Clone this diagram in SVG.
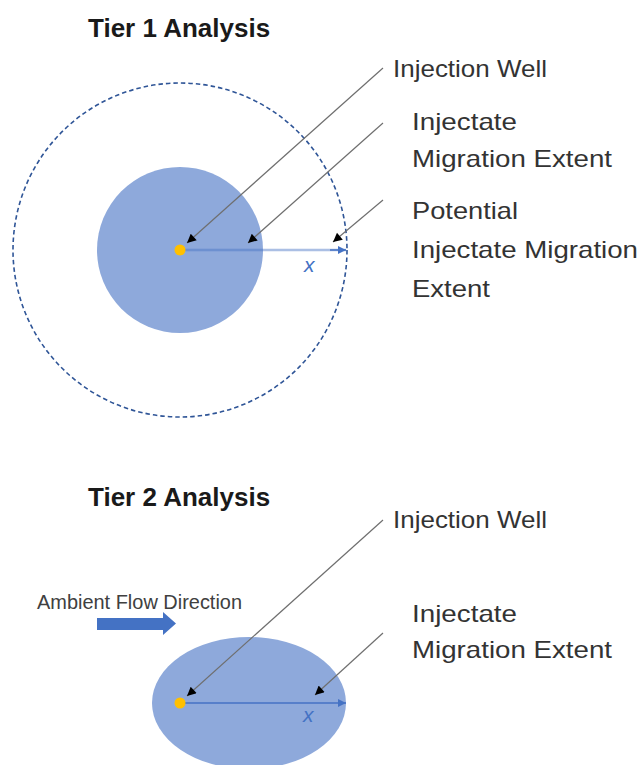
<svg xmlns="http://www.w3.org/2000/svg" width="644" height="765" viewBox="0 0 644 765">
<defs>
<style>
.title{font-family:"Liberation Sans",Arial,sans-serif;font-weight:bold;font-size:26px;fill:#1a1a1a}
.lbl{font-family:"Liberation Sans",Arial,sans-serif;font-size:24px;fill:#333333}
.small{font-family:"Liberation Sans",Arial,sans-serif;font-size:20px;fill:#404040}
.xl{font-family:"Liberation Sans",Arial,sans-serif;font-style:italic;font-size:21px;fill:#4472C4}
.leader{stroke:#6f6f6f;stroke-width:1.2;fill:none}
.well{fill:#FFC000}
.plume{fill:#8EA9DB}
</style>
<marker id="ah" viewBox="0 0 10 10" refX="10" refY="5" markerWidth="11" markerHeight="9" markerUnits="userSpaceOnUse" orient="auto">
<path d="M0,0 L10,5 L0,10 z" fill="#000"/>
</marker>
<marker id="bh" viewBox="0 0 10 10" refX="10" refY="5" markerWidth="9" markerHeight="8" markerUnits="userSpaceOnUse" orient="auto">
<path d="M0,0 L10,5 L0,10 z" fill="#4472C4"/>
</marker>
</defs>
<rect width="644" height="765" fill="#ffffff"/>

<g id="tier1">
<text class="title" x="88" y="37">Tier 1 Analysis</text>
<g id="potential-extent">
<circle cx="180" cy="250" r="167" fill="none" stroke="#2F5597" stroke-width="1.6" stroke-dasharray="4.5 3"/>
</g>
<g id="injectate-extent1">
<circle class="plume" cx="180" cy="250" r="83"/>
</g>
<g id="radius1">
<line x1="185" y1="250" x2="346" y2="250" stroke="#4472C4" stroke-opacity="0.45" stroke-width="2.5"/>
<line x1="330" y1="250" x2="346" y2="250" stroke="#4472C4" stroke-width="1.5" marker-end="url(#bh)"/>
<text class="xl" x="304" y="272">x</text>
</g>
<g id="well1">
<circle class="well" cx="180" cy="250" r="5.5"/>
</g>
<g id="label-well1"><text class="lbl" x="393" y="77" textLength="154" lengthAdjust="spacingAndGlyphs">Injection Well</text></g>
<g id="label-extent1">
<text class="lbl" x="412" y="130" textLength="105" lengthAdjust="spacingAndGlyphs">Injectate</text>
<text class="lbl" x="412" y="167" textLength="200" lengthAdjust="spacingAndGlyphs">Migration Extent</text>
</g>
<g id="label-potential1">
<text class="lbl" x="412" y="219" textLength="106" lengthAdjust="spacingAndGlyphs">Potential</text>
<text class="lbl" x="412" y="258" textLength="226" lengthAdjust="spacingAndGlyphs">Injectate Migration</text>
<text class="lbl" x="412" y="297" textLength="78" lengthAdjust="spacingAndGlyphs">Extent</text>
</g>
</g>

<g id="tier2">
<text class="title" x="88" y="506">Tier 2 Analysis</text>
<g id="flow-arrow">
<text class="small" x="37" y="609" textLength="205" lengthAdjust="spacingAndGlyphs">Ambient Flow Direction</text>
<path d="M97,618 L163,618 L163,612 L176,623.5 L163,635 L163,630 L97,630 Z" fill="#4472C4"/>
</g>
<g id="injectate-extent2">
<ellipse class="plume" cx="249" cy="703" rx="97" ry="66"/>
</g>
<g id="radius2">
<line x1="185" y1="703" x2="346" y2="703" stroke="#4472C4" stroke-width="1.5" marker-end="url(#bh)"/>
<text class="xl" x="303" y="722">x</text>
</g>
<g id="well2">
<circle class="well" cx="180" cy="703" r="5.5"/>
</g>
<g id="label-well2"><text class="lbl" x="393" y="528" textLength="154" lengthAdjust="spacingAndGlyphs">Injection Well</text></g>
<g id="label-extent2">
<text class="lbl" x="412" y="622" textLength="105" lengthAdjust="spacingAndGlyphs">Injectate</text>
<text class="lbl" x="412" y="658" textLength="200" lengthAdjust="spacingAndGlyphs">Migration Extent</text>
</g>
</g>

<g id="connectors">
<line class="leader" x1="383" y1="68" x2="187" y2="243" marker-end="url(#ah)"/>
<line class="leader" x1="383" y1="123" x2="248" y2="243" marker-end="url(#ah)"/>
<line class="leader" x1="383" y1="200" x2="333" y2="242" marker-end="url(#ah)"/>
<line class="leader" x1="383" y1="520" x2="187" y2="696" marker-end="url(#ah)"/>
<line class="leader" x1="383" y1="633" x2="315" y2="695" marker-end="url(#ah)"/>
</g>
</svg>
